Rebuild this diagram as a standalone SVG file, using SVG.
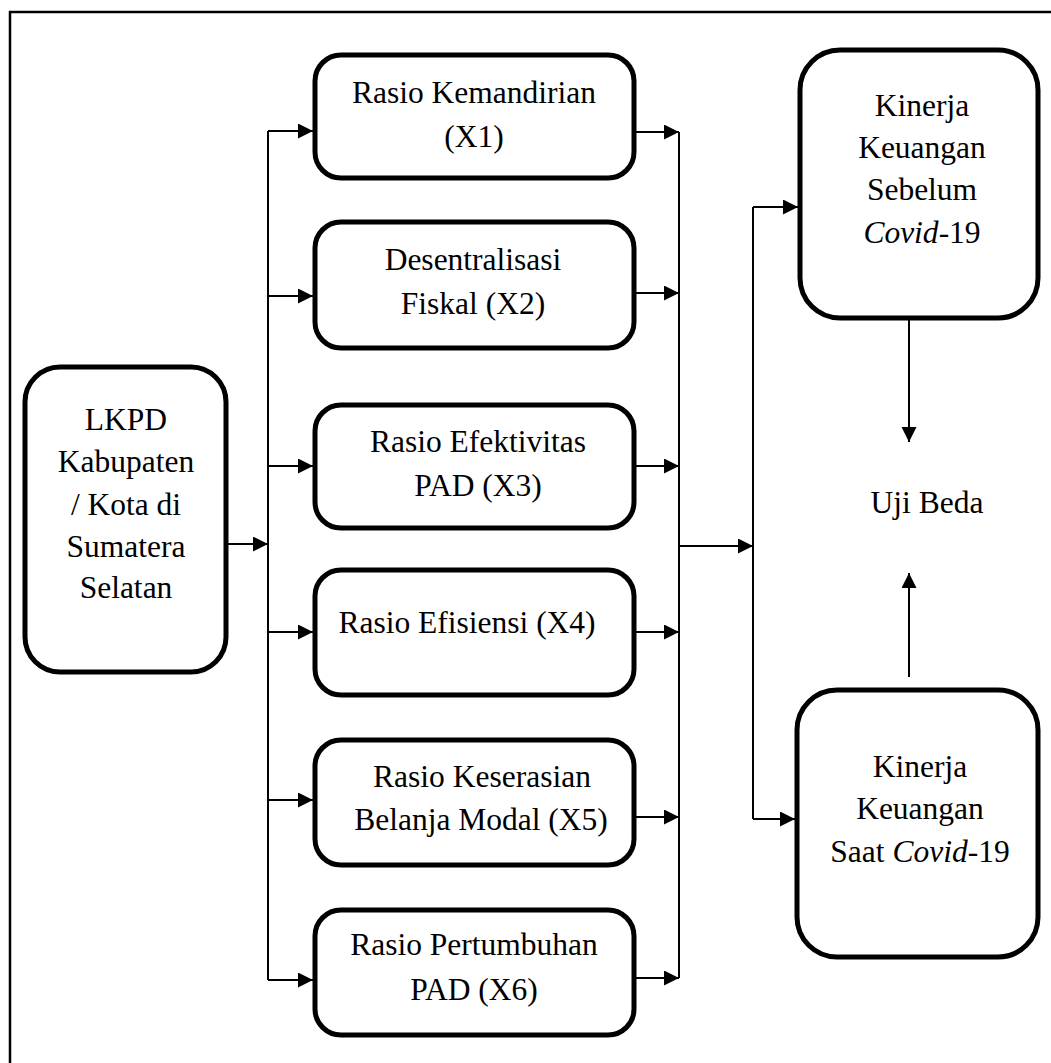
<svg xmlns="http://www.w3.org/2000/svg" width="1051" height="1063" viewBox="0 0 1051 1063">
<defs>
<marker id="ah" markerUnits="userSpaceOnUse" markerWidth="16" markerHeight="16" refX="15" refY="7.5" orient="auto">
<path d="M0,0 L15,7.5 L0,15 z" fill="#000"/>
</marker>
<style>
.box{fill:#fff;stroke:#000;stroke-width:5}
.t{font-size:31.5px;fill:#000;text-anchor:middle}
.c{fill:none;stroke:#000;stroke-width:2}
.a{fill:none;stroke:#000;stroke-width:2;marker-end:url(#ah)}
</style>
</defs>
<rect width="1051" height="1063" fill="#fff"/>
<path d="M10,1063 V12 H1051" fill="none" stroke="#000" stroke-width="2.5"/>
<g font-family="Liberation Serif, Times New Roman, serif">
<g id="lkpd">
<rect class="box" x="25" y="367" width="201" height="305" rx="35"/>
<text class="t" x="126" y="430">LKPD</text>
<text class="t" x="126" y="472">Kabupaten</text>
<text class="t" x="126" y="515">/ Kota di</text>
<text class="t" x="126" y="557">Sumatera</text>
<text class="t" x="126" y="598">Selatan</text>
</g>

<g id="x1">
<rect class="box" x="315" y="55" width="319" height="123" rx="26"/>
<text class="t" x="474" y="103">Rasio Kemandirian</text>
<text class="t" x="474" y="147">(X1)</text>
</g>
<g id="x2">
<rect class="box" x="315" y="222" width="319" height="126" rx="26"/>
<text class="t" x="473" y="270">Desentralisasi</text>
<text class="t" x="473" y="314">Fiskal (X2)</text>
</g>
<g id="x3">
<rect class="box" x="315" y="405" width="319" height="123" rx="26"/>
<text class="t" x="478" y="452">Rasio Efektivitas</text>
<text class="t" x="478" y="496">PAD (X3)</text>
</g>
<g id="x4">
<rect class="box" x="315" y="570" width="319" height="125" rx="26"/>
<text class="t" x="467" y="633">Rasio Efisiensi (X4)</text>
</g>
<g id="x5">
<rect class="box" x="315" y="740" width="319" height="125" rx="26"/>
<text class="t" x="482" y="787">Rasio Keserasian</text>
<text class="t" x="481" y="830">Belanja Modal (X5)</text>
</g>
<g id="x6">
<rect class="box" x="315" y="910" width="319" height="125" rx="26"/>
<text class="t" x="474" y="955">Rasio Pertumbuhan</text>
<text class="t" x="474" y="1000">PAD (X6)</text>
</g>

<g id="sebelum">
<rect class="box" x="800" y="50" width="238" height="268" rx="40"/>
<text class="t" x="922" y="116">Kinerja</text>
<text class="t" x="922" y="158">Keuangan</text>
<text class="t" x="922" y="200">Sebelum</text>
<text class="t" x="922" y="243"><tspan font-style="italic">Covid</tspan>-19</text>
</g>
<g id="saat">
<rect class="box" x="797" y="690" width="241" height="267" rx="40"/>
<text class="t" x="920" y="777">Kinerja</text>
<text class="t" x="920" y="819">Keuangan</text>
<text class="t" x="920" y="862">Saat <tspan font-style="italic">Covid</tspan>-19</text>
</g>
<g id="ujibeda">
<text class="t" x="927" y="513">Uji Beda</text>
</g>
</g>
<g id="connectors">
<path class="a" d="M226,544 H268"/>
<path class="c" d="M268,131 V980"/>
<path class="a" d="M268,131 H313"/>
<path class="a" d="M268,296 H313"/>
<path class="a" d="M268,466 H313"/>
<path class="a" d="M268,632 H313"/>
<path class="a" d="M268,800 H313"/>
<path class="a" d="M268,980 H313"/>
<path class="a" d="M636,132 H679"/>
<path class="a" d="M636,293 H679"/>
<path class="a" d="M636,466 H679"/>
<path class="a" d="M636,632 H679"/>
<path class="a" d="M636,817 H679"/>
<path class="a" d="M636,978 H679"/>
<path class="c" d="M679,132 V978"/>
<path class="a" d="M679,546 H753"/>
<path class="c" d="M753,207 V819"/>
<path class="a" d="M753,207 H798"/>
<path class="a" d="M753,819 H795"/>
<path class="a" d="M909,320 V442"/>
<path class="a" d="M909,677 V573"/>
</g>
</svg>
